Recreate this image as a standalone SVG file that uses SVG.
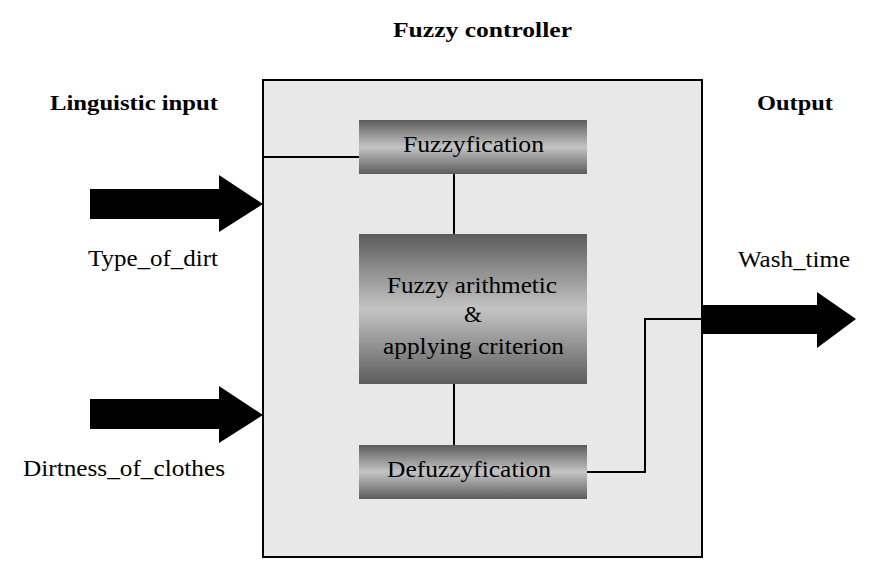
<svg xmlns="http://www.w3.org/2000/svg" width="875" height="575" viewBox="0 0 875 575">
<defs>
<linearGradient id="g" x1="0" y1="0" x2="0" y2="1">
<stop offset="0" stop-color="#5c5c5c"/>
<stop offset="0.5" stop-color="#c4c4c4"/>
<stop offset="1" stop-color="#5c5c5c"/>
</linearGradient>
</defs>
<style>
.blk{fill:url(#g)}
.ln{stroke:#000;stroke-width:2;fill:none}
.arr{fill:#000}
</style>
<rect width="875" height="575" fill="#fff"/>
<text font-family="Liberation Serif, serif" font-size="22" font-weight="bold" x="393" y="37" textLength="179" lengthAdjust="spacingAndGlyphs">Fuzzy controller</text>
<text font-family="Liberation Serif, serif" font-size="22" font-weight="bold" x="50" y="110" textLength="168" lengthAdjust="spacingAndGlyphs">Linguistic input</text>
<text font-family="Liberation Serif, serif" font-size="22" font-weight="bold" x="757" y="110" textLength="76" lengthAdjust="spacingAndGlyphs">Output</text>
<g id="controller">
<rect x="263" y="80" width="439" height="477" fill="#e8e8e8" stroke="#000" stroke-width="2"/>
</g>
<g id="connectors">
<polyline class="ln" points="263,157 359,157"/>
<polyline class="ln" points="454,174 454,234"/>
<polyline class="ln" points="454,384 454,445"/>
<polyline class="ln" points="587,472 645,472 645,319 702,319"/>
<polygon class="arr" points="90,189 219,189 219,175 263,204 219,232 219,219 90,219"/>
<polygon class="arr" points="90,399 219,399 219,386 263,415 219,443 219,429 90,429"/>
<polygon class="arr" points="702,305 817,305 817,292 856,319 817,348 817,334 702,334"/>
</g>
<g id="fuzzyfication">
<rect class="blk" x="359" y="120" width="228" height="54"/>
<text font-family="Liberation Serif, serif" font-size="23" x="403" y="152" textLength="141" lengthAdjust="spacingAndGlyphs">Fuzzyfication</text>
</g>
<g id="arithmetic">
<rect class="blk" x="359" y="234" width="228" height="150"/>
<text font-family="Liberation Serif, serif" font-size="23" x="387" y="293" textLength="170" lengthAdjust="spacingAndGlyphs">Fuzzy arithmetic</text>
<text font-family="Liberation Serif, serif" font-size="23" x="473" y="322" text-anchor="middle">&amp;</text>
<text font-family="Liberation Serif, serif" font-size="23" x="383" y="354" textLength="181" lengthAdjust="spacingAndGlyphs">applying criterion</text>
</g>
<g id="defuzzyfication">
<rect class="blk" x="359" y="445" width="228" height="54"/>
<text font-family="Liberation Serif, serif" font-size="23" x="387" y="477" textLength="164" lengthAdjust="spacingAndGlyphs">Defuzzyfication</text>
</g>
<g id="labels">
<text font-family="Liberation Serif, serif" font-size="23" x="88" y="266" textLength="130" lengthAdjust="spacingAndGlyphs">Type_of_dirt</text>
<text font-family="Liberation Serif, serif" font-size="23" x="23" y="476" textLength="202" lengthAdjust="spacingAndGlyphs">Dirtness_of_clothes</text>
<text font-family="Liberation Serif, serif" font-size="23" x="738" y="267" textLength="112" lengthAdjust="spacingAndGlyphs">Wash_time</text>
</g>
</svg>
